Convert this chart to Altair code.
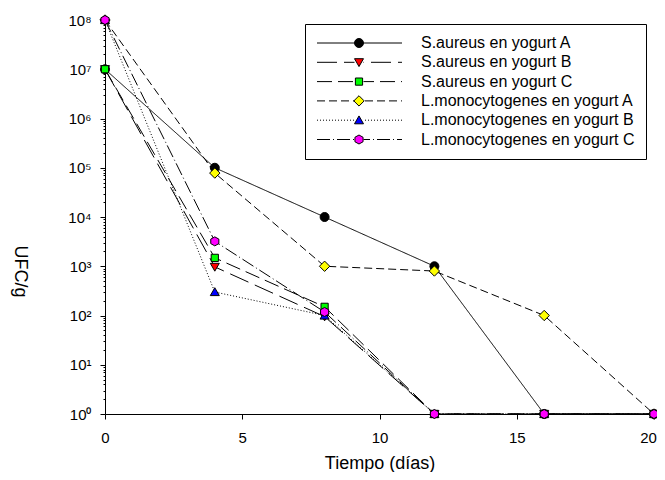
import altair as alt
import pandas as pd

FONT = "Arial, Liberation Sans, sans-serif"

days = [0, 4, 8, 12, 16, 20]
series_names = [
    "S.aureus en yogurt A",
    "S.aureus en yogurt B",
    "S.aureus en yogurt C",
    "L.monocytogenes en yogurt A",
    "L.monocytogenes en yogurt B",
    "L.monocytogenes en yogurt C",
]
sa_A = [1e7, 1e5, 1e4, 1e3, 1, 1]
sa_B = [1e7, 970, 95, 1, 1, 1]
sa_C = [1e7, 1480, 150, 1, 1, 1]
lm_A = [1e8, 78000, 1000, 800, 100, 1]
lm_B = [1e8, 300, 100, 1, 1, 1]
lm_C = [1e8, 3200, 118, 1, 1, 1]
all_values = [sa_A, sa_B, sa_C, lm_A, lm_B, lm_C]

colors = ["#000000", "#FF0000", "#00FF00", "#FFFF00", "#0000FF", "#FF00FF"]
outline = ["#000000"] * 6
marker_kinds = ["circle", "tri_down", "square", "diamond", "tri_up", "hexagon"]
dash_patterns = [[], [20, 7], [15, 6], [8, 4], [1, 2], [13, 3, 1, 3]]

x_ticks = [0, 5, 10, 15, 20]
y_ticks = [m * 10 ** e for e in range(0, 8) for m in range(1, 10)] + [1e8]

rows = []
for name, vals in zip(series_names, all_values):
    for d, v in zip(days, vals):
        rows.append({"Tiempo": d, "UFC": v, "Serie": name})
df = pd.DataFrame(rows)


def f(v):
    return f"{v:.3f}".rstrip("0").rstrip(".")


def marker_path(kind, k):
    if kind == "circle":
        r = k
        return f"M{f(-r)},0A{f(r)},{f(r)} 0 1,0 {f(r)},0A{f(r)},{f(r)} 0 1,0 {f(-r)},0Z"
    if kind == "tri_down":
        return f"M{f(-k)},{f(-0.8*k)}L{f(k)},{f(-0.8*k)}L0,{f(0.95*k)}Z"
    if kind == "tri_up":
        return f"M{f(-k)},{f(0.8*k)}L{f(k)},{f(0.8*k)}L0,{f(-0.95*k)}Z"
    if kind == "square":
        s = 0.8 * k
        return f"M{f(-s)},{f(-s)}H{f(s)}V{f(s)}H{f(-s)}Z"
    if kind == "diamond":
        s = 1.15 * k
        return f"M0,{f(-s)}L{f(s)},0L0,{f(s)}L{f(-s)},0Z"
    if kind == "hexagon":
        a, b = 0.9 * k, 0.5 * k
        return (f"M0,{f(-k)}L{f(a)},{f(-b)}L{f(a)},{f(b)}L0,{f(k)}"
                f"L{f(-a)},{f(b)}L{f(-a)},{f(-b)}Z")
    return ""


def dash_segments(pattern, x0=-42.0, x1=43.0, lo=-4.5, hi=4.5):
    raw = []
    if not pattern:
        raw = [(x0, x1)]
    else:
        x, i, on = x0, 0, True
        while x < x1:
            L = pattern[i % len(pattern)]
            if on:
                raw.append((x, min(x + L, x1)))
            x += L
            i += 1
            on = not on
    segs = []
    for a, b in raw:
        for c, d in [(a, min(b, lo)), (max(a, hi), b)]:
            if d - c > 0.3:
                segs.append((c, d))
    return segs


LEG_UNIT = 5.0  # px per path unit for legend symbol size 100
legend_shapes = []
for kind, pat in zip(marker_kinds, dash_patterns):
    p = marker_path(kind, 0.9)
    for a, b in dash_segments(pat):
        p += f" M{f(a / LEG_UNIT)},0H{f(b / LEG_UNIT)}"
    legend_shapes.append(p)

plot_shapes = [marker_path(k, 1.0) for k in marker_kinds]
plot_dashes = [p if p else [1, 0] for p in dash_patterns]

is_major = "abs(log(datum.value)/LN10 - round(log(datum.value)/LN10)) < 1e-6"
sup = "['⁰','¹','²','³','⁴','⁵','⁶','⁷','⁸']"

x_enc = alt.X(
    "Tiempo:Q",
    scale=alt.Scale(domain=[0, 20], nice=False, zero=False),
    axis=alt.Axis(
        values=x_ticks, title="Tiempo (días)", grid=False,
        tickSize=5, tickColor="black", domainColor="black",
        labelFont=FONT, labelFontSize=15, labelColor="black", labelPadding=11,
        labelFlush=False,
        labelOffset={"condition": {"test": "datum.value >= 20", "value": -6}, "value": 0},
        titleFont=FONT, titleFontSize=18, titleFontWeight="normal", titleColor="black",
        titleBaseline="bottom", titleY=58,
    ),
)
y_enc = alt.Y(
    "UFC:Q",
    scale=alt.Scale(type="log", domain=[1, 1e8], nice=False),
    axis=alt.Axis(
        values=y_ticks, title="UFC/g", grid=False,
        tickSize={"condition": {"test": is_major, "value": 5}, "value": 2},
        tickColor="black", domainColor="black",
        labelExpr=f"{is_major} ? '10' + {sup}[round(log(datum.value)/LN10)] : ''",
        labelFont=FONT, labelFontSize=15, labelColor="black", labelPadding=9,
        labelOverlap=False, labelFlush=False,
        titleFont=FONT, titleFontSize=18, titleFontWeight="normal", titleColor="black",
        titleAngle=90, titleAlign="center", titleBaseline="middle",
        titleX=-86, titleY=251,
    ),
)

base = alt.Chart(df)

lines = base.mark_line(color="black", strokeWidth=1).encode(
    x=x_enc, y=y_enc,
    strokeDash=alt.StrokeDash("Serie:N", scale=alt.Scale(domain=series_names, range=plot_dashes), legend=None),
    order="Tiempo:Q",
)

points = base.mark_point(filled=True, size=81, stroke="black", strokeWidth=1, opacity=1).encode(
    x=x_enc, y=y_enc,
    shape=alt.Shape("Serie:N", scale=alt.Scale(domain=series_names, range=plot_shapes), legend=None),
    fill=alt.Fill("Serie:N", scale=alt.Scale(domain=series_names, range=colors), legend=None),
)

leg = alt.Legend(
    title=None, orient="none", legendX=200, legendY=4, padding=11,
    strokeColor="black", fillColor="white",
    labelFont=FONT, labelFontSize=16, labelColor="black", labelLimit=400,
    symbolSize=100, symbolStrokeColor="black", symbolStrokeWidth=1, symbolOpacity=1,
    symbolOffset=35, labelOffset=54, rowPadding=3.3,
)

legend_layer = base.transform_filter("false").mark_point(
    filled=True, size=100, strokeWidth=1, opacity=1
).encode(
    x=x_enc, y=y_enc,
    shape=alt.Shape("Serie:N", scale=alt.Scale(domain=series_names, range=legend_shapes), legend=leg),
    fill=alt.Fill("Serie:N", scale=alt.Scale(domain=series_names, range=colors), legend=leg),
    stroke=alt.Stroke("Serie:N", scale=alt.Scale(domain=series_names, range=outline), legend=leg),
)

chart = (
    alt.layer(lines, points, legend_layer)
    .resolve_scale(shape="independent", fill="independent", stroke="independent")
    .properties(
        width=549, height=394, autosize="none",
        padding={"left": 97, "top": 12, "right": 3, "bottom": 58},
        background="white",
    )
    .configure_view(stroke=None)
)

chart.save("out.html", embed_options={"renderer": "svg", "actions": False})
